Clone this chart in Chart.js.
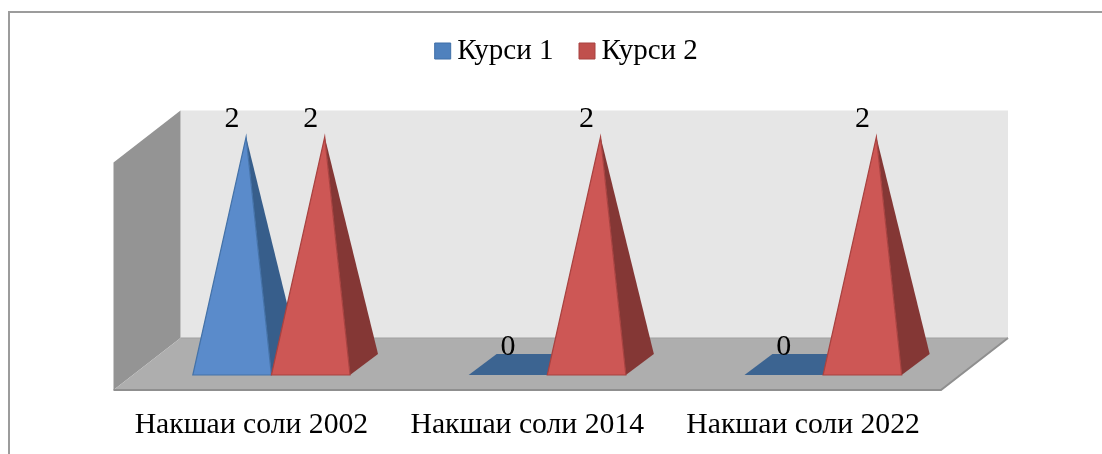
<!DOCTYPE html>
<html><head><meta charset="utf-8">
<style>html,body{margin:0;padding:0;background:#fff;overflow:hidden}
#wrap{position:relative;width:1102px;height:454px}
#frame{position:absolute;left:8px;top:11px;right:-4px;bottom:-4px;border:2px solid #9c9c9c;box-sizing:border-box}
canvas{position:absolute;left:0;top:0}</style>
<script src="https://cdn.jsdelivr.net/npm/chart.js@4/dist/chart.umd.js"></script>
</head><body><div id="wrap"><div id="frame"></div><canvas id="c" width="1102" height="454"></canvas></div>
<script>
const categories = ['Накшаи соли 2002','Накшаи соли 2014','Накшаи соли 2022'];
const course1 = [2,0,0];
const course2 = [2,2,2];
const seriesNames = ['Курси 1','Курси 2'];
const FONT = '"Liberation Serif", serif';

const planeShift = {x:20,y:-15};   // bar plane inside the floor
const depth = {x:28,y:-21};        // pyramid footprint depth
const floorDepth = {x:67,y:-52};   // whole box depth
const shades = [
 {front:'#5a8bcb',side:'#375e8b',line:'#4472a8',floor:'#3c6491'},
 {front:'#cd5755',side:'#843735',line:'#a84240',floor:'#843735'}
];
function poly(ctx,pts,fill,stroke,lw){
  ctx.beginPath();pts.forEach((p,i)=>i?ctx.lineTo(p[0],p[1]):ctx.moveTo(p[0],p[1]));ctx.closePath();
  ctx.fillStyle=fill;ctx.fill();
  if(stroke){ctx.strokeStyle=stroke;ctx.lineWidth=lw||1;ctx.stroke();}
}
const boxPlugin = {
  id:'box3d',
  afterLayout(chart){
    const l=chart.legend;l.left+=43;l.right+=43;l.top-=87;l.bottom-=87;
  },
  beforeDatasetsDraw(chart){
    const ctx=chart.ctx,a=chart.chartArea,top=chart.scales.y.getPixelForValue(2),b=a.bottom;
    const dx=floorDepth.x,dy=floorDepth.y;
    ctx.save();
    poly(ctx,[[a.left+dx,top+dy],[a.right+dx,top+dy],[a.right+dx,b+dy],[a.left+dx,b+dy]],'#e6e6e6');
    poly(ctx,[[a.left,top],[a.left+dx,top+dy],[a.left+dx,b+dy],[a.left,b]],'#949494');
    poly(ctx,[[a.left,b],[a.right,b],[a.right+dx,b+dy],[a.left+dx,b+dy]],'#aeaeae');
    ctx.strokeStyle='#8f8f8f';ctx.lineWidth=2;
    ctx.beginPath();ctx.moveTo(a.left,b);ctx.lineTo(a.right,b);ctx.lineTo(a.right+dx,b+dy);ctx.stroke();
    ctx.strokeStyle='#a0a0a0';ctx.lineWidth=1;
    ctx.beginPath();ctx.moveTo(a.left+dx,b+dy);ctx.lineTo(a.right+dx,b+dy);ctx.stroke();
    ctx.restore();
  },
  beforeDatasetDraw(){ return false; },
  afterDatasetsDraw(chart){
    const ctx=chart.ctx;
    ctx.save();
    chart.data.datasets.forEach((d,i)=>{
      const s=shades[i];
      chart.getDatasetMeta(i).data.forEach(el=>{
        const p=el.getProps(['x','y','base','width'],true);
        const l=p.x-p.width/2+planeShift.x,r=p.x+p.width/2+planeShift.x,
              b=p.base+planeShift.y,t=p.y+planeShift.y;
        if(Math.abs(b-t)<1){
          poly(ctx,[[l,b],[r,b],[r+depth.x,b+depth.y],[l+depth.x,b+depth.y]],s.floor);
        }else{
          const apex=[(l+r)/2+depth.x/2,t+depth.y/2];
          poly(ctx,[[r,b],[r+depth.x,b+depth.y],apex],s.side);
          poly(ctx,[[l,b],[r,b],apex],s.front,s.line,1.2);
        }
      });
    });
    ctx.fillStyle='#000';ctx.font='30px '+FONT;ctx.textAlign='center';ctx.textBaseline='middle';
    chart.data.datasets.forEach((d,i)=>{
      chart.getDatasetMeta(i).data.forEach((el,j)=>{
        ctx.fillText(String(d.data[j]),el.x+planeShift.x,el.y+planeShift.y-28);
      });
    });
    ctx.restore();
  }
};
new Chart(document.getElementById('c'),{
  type:'bar',
  data:{labels:categories,datasets:[
    {label:seriesNames[0],data:course1,backgroundColor:'#4f81bd',borderColor:'#3f6fa8',borderWidth:1},
    {label:seriesNames[1],data:course2,backgroundColor:'#c0504d',borderColor:'#a84240',borderWidth:1}
  ]},
  options:{
    responsive:false,animation:false,
    layout:{padding:{left:113.5,right:161,top:90,bottom:4}},
    datasets:{bar:{categoryPercentage:0.57,barPercentage:1}},
    plugins:{
      tooltip:{enabled:false},
      legend:{position:'top',labels:{font:{family:FONT,size:29},color:'#000',usePointStyle:true,pointStyle:'rect',boxWidth:0.01,boxHeight:16,padding:33.5}}
    },
    scales:{
      x:{grid:{display:false},border:{display:false},
         afterFit(s){s.height=60;},
         ticks:{font:{family:FONT,size:29.7},color:'#000',maxRotation:0,autoSkip:false,padding:9}},
      y:{display:false,min:0,max:2}
    }
  },
  plugins:[boxPlugin]
});
</script></body></html>
